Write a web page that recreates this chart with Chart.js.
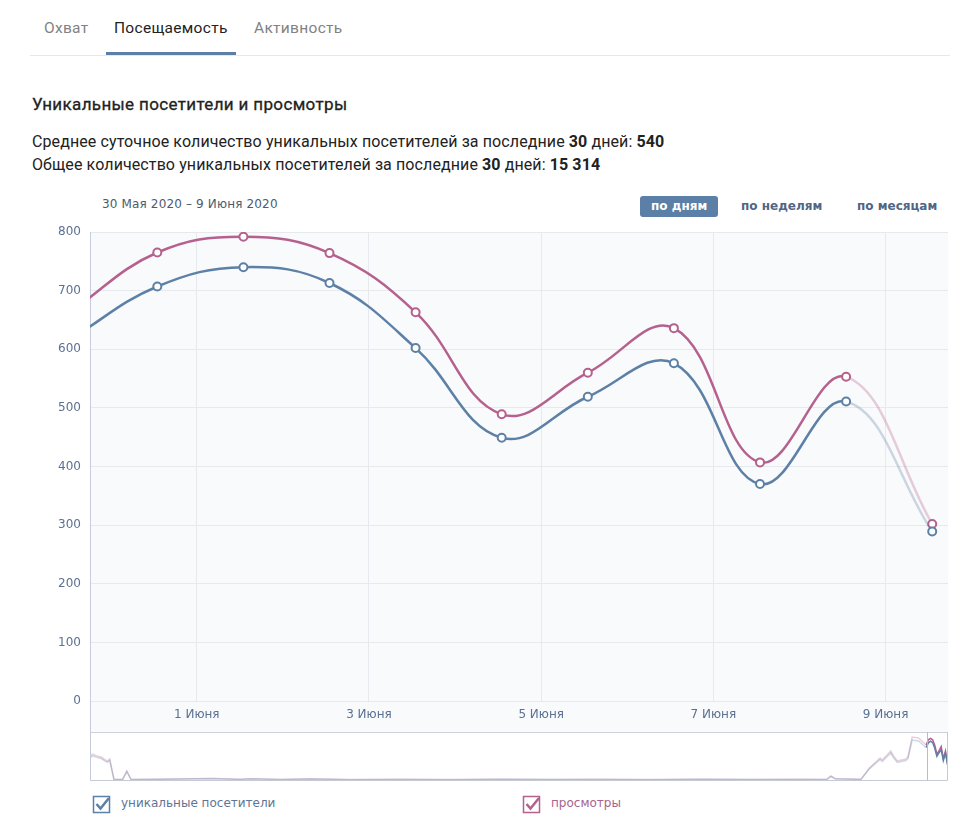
<!doctype html>
<html lang="ru">
<head>
    <meta charset="utf-8">
    <title>Посещаемость</title>
    <script src="https://cdn.jsdelivr.net/npm/chart.js"></script>
    <style>
        body {
            margin: 0;
            background: #fff;
            font-family: Roboto, "Noto Sans", sans-serif;
            color: #222;
        }
        .abs { position: absolute; white-space: nowrap; }
        .tab { top: 18px; line-height: 20px; font-size: 15.5px; letter-spacing: 0.3px; color: #828282; }
        .tab.active { color: #222; }
        .sep { left: 30px; top: 55px; width: 920px; height: 1px; background: #e7e8ec; }
        .underline { left: 106px; top: 52px; width: 130px; height: 3px; background: #5c7fa7; }
        .title { left: 32px; top: 94px; line-height: 20px; font-size: 17px; letter-spacing: 0.35px;
                 -webkit-text-stroke: 0.3px #222; }
        .info { left: 32px; line-height: 20px; font-size: 16px; letter-spacing: 0.1px; }
        .range { left: 102px; top: 194px; line-height: 20px; font-size: 12px; letter-spacing: 0.15px; color: #4d5b6e; font-family: "DejaVu Sans", sans-serif; }
        .btn { top: 196px; height: 21px; line-height: 21px; font-size: 12px; font-weight: bold;
               font-family: "DejaVu Sans", sans-serif; color: #4f6684; }
        .btn.active { background: #5b7fa6; color: #fff; border-radius: 3px; padding: 0 11px; }
        .legend { top: 793px; line-height: 20px; font-size: 12px; font-family: "DejaVu Sans", sans-serif; }
        .legend svg { position: absolute; left: 0; top: 0; }
        .legend span { position: absolute; top: 0; }
    </style>
</head>
<body>
    <div class="abs tab" style="left:44px">Охват</div>
    <div class="abs tab active" style="left:114px">Посещаемость</div>
    <div class="abs tab" style="left:254px">Активность</div>
    <div class="abs sep"></div>
    <div class="abs underline"></div>

    <div class="abs title">Уникальные посетители и просмотры</div>
    <div class="abs info" style="top:132px">Среднее суточное количество уникальных посетителей за последние <b>30</b> дней: <b>540</b></div>
    <div class="abs info" style="top:155px">Общее количество уникальных посетителей за последние <b>30</b> дней: <b>15 314</b></div>

    <div class="abs range">30 Мая 2020 – 9 Июня 2020</div>
    <div class="abs btn active" style="left:640px">по дням</div>
    <div class="abs btn" style="left:741px">по неделям</div>
    <div class="abs btn" style="left:857px">по месяцам</div>

    <div class="abs" style="left:30px; top:222px; width:928px; height:510px;">
        <canvas id="mainChart" width="928" height="510"></canvas>
    </div>
    <div class="abs" style="left:30px; top:732px; width:928px; height:50px;">
        <canvas id="navChart" width="928" height="50"></canvas>
    </div>

    <div class="abs legend" style="left:92px; width:200px; height:22px;">
        <svg width="20" height="22" viewBox="0 0 20 22">
            <rect x="1.5" y="3.5" width="16" height="16" fill="#fff" stroke="#5d80a6" stroke-width="1.5"/>
            <polyline points="4.5,11 8.5,15.5 17,5" fill="none" stroke="#5d80a6" stroke-width="2.5"/>
        </svg>
        <span style="left:29px; color:#5f7593">уникальные посетители</span>
    </div>
    <div class="abs legend" style="left:522px; width:200px; height:22px;">
        <svg width="20" height="22" viewBox="0 0 20 22">
            <rect x="1.5" y="3.5" width="16" height="16" fill="#fff" stroke="#b5618f" stroke-width="1.5"/>
            <polyline points="4.5,11 8.5,15.5 17,5" fill="none" stroke="#b5618f" stroke-width="2.5"/>
        </svg>
        <span style="left:29px; color:#a8638f">просмотры</span>
    </div>

    <script>
        // дни (точки стоят около 13:00 каждого дня)
        const days = ['30 Мая', '31 Мая', '1 Июня', '2 Июня', '3 Июня', '4 Июня',
                      '5 Июня', '6 Июня', '7 Июня', '8 Июня', '9 Июня'];
        const visitors = [618, 707, 740, 713, 602, 449, 519, 576, 370, 511, 289];
        const views    = [665, 765, 792, 764, 663, 489, 560, 636, 407, 553, 302];

        const xTickDays   = [0, 2, 4, 6, 8];
        const xTickLabels = ['1 Июня', '3 Июня', '5 Июня', '7 Июня', '9 Июня'];

        // навигатор: вся история (дни от 1 Июня), до начала выбранного периода
        const navDays     = [-392, -391, -389, -387, -385, -384, -383, -381, -377, -375,
                             -373, -360, -335, -322, -317, -303, -289, -271, -247, -224,
                             -201, -177, -154, -131, -107, -84, -60, -48, -46, -44,
                             -32, -28, -23, -22, -18, -17, -15, -11, -10, -8,
                             -5, -3];
        const navViews    = [456, 494, 456, 437, 380, 361, 399, 10, 10, 171,
                             10, 15, 30, 12, 25, 10, 22, 8, 12, 8,
                             15, 10, 12, 8, 15, 10, 12, 10, 76, 25,
                             12, 228, 418, 380, 551, 475, 361, 399, 437, 817,
                             798, 722];
        const navVisitors = [425, 460, 430, 410, 355, 340, 372, 9, 9, 160,
                             9, 14, 28, 11, 23, 9, 20, 7, 11, 7,
                             14, 9, 11, 7, 14, 9, 11, 9, 70, 23,
                             11, 212, 390, 352, 512, 440, 335, 370, 405, 760,
                             742, 670];

        const blue = '#5d80a6', blueFade = 'rgba(93,128,166,0.3)';
        const purple = '#b5618f', purpleFade = 'rgba(181,97,143,0.3)';
        const viewMin = -1.24, viewMax = 8.725;
        const pointTime = 13 / 24;
        const labelFont = { family: 'DejaVu Sans', size: 12 };
        const labelColor = '#5b7193';

        const dayX = days.map((d, i) => i - 2 + pointTime);
        const toPoints = (vals) => vals.map((v, i) => ({ x: dayX[i], y: v }));
        const last = days.length - 1;

        const plotBackground = {
            id: 'plotBackground',
            beforeDraw(chart) {
                const { ctx, chartArea } = chart;
                ctx.save();
                ctx.fillStyle = '#f9fafb';
                ctx.fillRect(chartArea.left, chartArea.top, chartArea.right - chartArea.left, chart.height - chartArea.top);
                ctx.restore();
            },
            beforeDatasetsDraw(chart) {
                const { ctx, chartArea } = chart;
                ctx.save();
                ctx.strokeStyle = '#c4cdd8';
                ctx.lineWidth = 1;
                ctx.beginPath();
                ctx.moveTo(chartArea.left + 0.5, chartArea.top);
                ctx.lineTo(chartArea.left + 0.5, chart.height);
                ctx.stroke();
                ctx.restore();
            }
        };

        function lineSet(label, vals, color, fade) {
            return {
                label: label,
                data: toPoints(vals),
                borderColor: color,
                borderWidth: 2.5,
                pointRadius: 4,
                pointBorderWidth: 2,
                pointBackgroundColor: '#fff',
                pointBorderColor: color,
                tension: 0.4,
                fill: false,
                segment: {
                    borderColor: ctx => ctx.p1DataIndex === last ? fade : undefined
                }
            };
        }

        const mainChart = new Chart(document.getElementById('mainChart').getContext('2d'), {
            type: 'line',
            data: {
                datasets: [
                    lineSet('уникальные посетители', visitors, blue, blueFade),
                    lineSet('просмотры', views, purple, purpleFade)
                ]
            },
            options: {
                responsive: false,
                animation: false,
                layout: { padding: { top: 10, right: 10, left: 0, bottom: 0 } },
                plugins: { legend: { display: false }, tooltip: { enabled: false } },
                scales: {
                    x: {
                        type: 'linear',
                        min: viewMin,
                        max: viewMax,
                        afterBuildTicks: scale => { scale.ticks = xTickDays.map(v => ({ value: v })); },
                        afterFit: scale => { scale.height = 31; },
                        ticks: {
                            callback: value => xTickLabels[xTickDays.indexOf(value)],
                            color: labelColor,
                            font: labelFont,
                            padding: 7,
                            maxRotation: 0,
                            autoSkip: false
                        },
                        grid: { color: '#e6e9ee', drawTicks: false },
                        border: { display: false }
                    },
                    y: {
                        min: 0,
                        max: 800,
                        afterFit: scale => {
                            scale.width = 60;
                            scale.paddingTop = 0;
                            scale.paddingBottom = 0;
                        },
                        ticks: { stepSize: 100, color: labelColor, font: labelFont, padding: 9 },
                        grid: { color: '#e6e9ee', drawTicks: false },
                        border: { display: false }
                    }
                }
            },
            plugins: [plotBackground]
        });

        const navFrame = {
            id: 'navFrame',
            afterDraw(chart) {
                const { ctx, chartArea } = chart;
                const winLeft = Math.round(chart.scales.x.getPixelForValue(viewMin)) + 0.5;
                ctx.save();
                ctx.lineWidth = 1;
                ctx.strokeStyle = '#ccd2da';
                ctx.beginPath();
                ctx.moveTo(chartArea.left, 0.5);
                ctx.lineTo(chartArea.right, 0.5);
                ctx.stroke();
                ctx.strokeStyle = '#c4cbd6';
                ctx.beginPath();
                ctx.moveTo(chartArea.left + 0.5, 0);
                ctx.lineTo(chartArea.left + 0.5, chart.height - 1.5);
                ctx.lineTo(chartArea.right - 0.5, chart.height - 1.5);
                ctx.lineTo(chartArea.right - 0.5, 0);
                ctx.stroke();
                ctx.strokeStyle = '#b5bdc8';
                ctx.beginPath();
                ctx.moveTo(winLeft, 0);
                ctx.lineTo(winLeft, chart.height - 1.5);
                ctx.stroke();
                ctx.restore();
            }
        };

        function navSet(histVals, vals, color, fade) {
            const pts = navDays.map((d, i) => ({ x: d, y: histVals[i] })).concat(toPoints(vals));
            return {
                data: pts,
                borderColor: color,
                borderWidth: 1.5,
                pointRadius: 0,
                tension: 0,
                fill: false,
                segment: {
                    borderColor: ctx => ctx.p1.parsed.x > viewMin ? color : fade
                }
            };
        }

        const navChart = new Chart(document.getElementById('navChart').getContext('2d'), {
            type: 'line',
            data: {
                datasets: [
                    navSet(navVisitors, visitors, blue, blueFade),
                    navSet(navViews, views, purple, purpleFade)
                ]
            },
            options: {
                responsive: false,
                animation: false,
                layout: { padding: { top: 2, right: 10, left: 60, bottom: 2 } },
                plugins: { legend: { display: false }, tooltip: { enabled: false } },
                scales: {
                    x: { type: 'linear', min: -392.2, max: viewMax, display: false },
                    y: { min: 0, max: 875, display: false }
                }
            },
            plugins: [navFrame]
        });
    </script>
</body>
</html>
